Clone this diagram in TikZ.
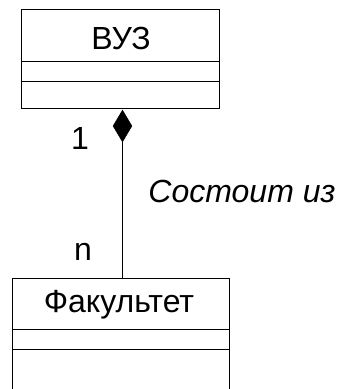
\documentclass[tikz,border=0pt]{standalone}
\usepackage{fontspec}
\setmainfont{Liberation Sans}
\usetikzlibrary{shapes.geometric}
\begin{document}
\begin{tikzpicture}[x=1pt,y=-1pt,
  part/.style={draw=black, line width=0.9pt, anchor=north west, inner sep=0pt},
  label/.style={font=\fontsize{32}{32}\selectfont, inner sep=0pt},
  comp/.style={diamond, fill=black, draw=black, inner sep=0pt, minimum width=19pt, minimum height=32pt}]
\useasboundingbox (0,0) rectangle (340,389);
\clip (0,0) rectangle (340,389);
% class "ВУЗ"
\node[part, minimum width=198pt, minimum height=52pt] (vuzname) at (21,9) {};
\node[part, minimum width=198pt, minimum height=20pt] (vuzattr) at (21,61) {};
\node[part, minimum width=198pt, minimum height=27pt] (vuzops) at (21,81) {};
\node[label] (vuztext) at (121,38) {ВУЗ};
% class "Факультет"
\node[part, minimum width=217pt, minimum height=51pt] (facname) at (12,278) {};
\node[part, minimum width=217pt, minimum height=20pt] (facattr) at (12,329) {};
\node[part, minimum width=217pt, minimum height=60pt] (facops) at (12,349) {};
\node[label] (factext) at (119,305) {Факультет};
% composition
\node[comp] (whole) at (122.5,126) {};
\draw[line width=0.6pt] (whole.south) -- (whole.south |- facname.north);
\node[label] (mone) at (80,138) {1};
\node[label] (mn) at (83,252) {n};
\node[label, font=\fontsize{32}{32}\selectfont\itshape] (rel) at (242,191) {Состоит из};
\end{tikzpicture}
\end{document}
